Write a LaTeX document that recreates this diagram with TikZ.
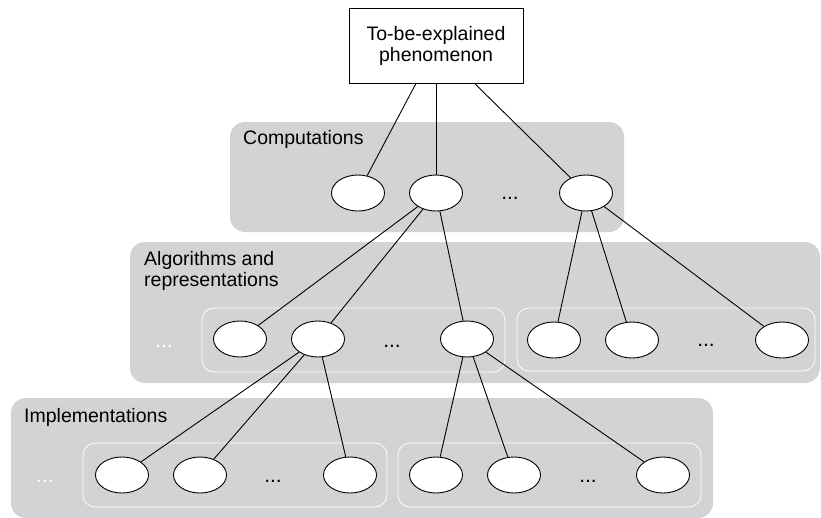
\documentclass[tikz,border=0pt]{standalone}
\usepackage{fontspec}
\setmainfont{Liberation Sans}
\usetikzlibrary{shapes.geometric, positioning}
\definecolor{cBand}{RGB}{211,211,211}
\tikzset{
	band/.style  ={fill=cBand, rounded corners=15pt},
	grp/.style   ={draw=white, line width=0.8pt, rounded corners=12pt},
	oval/.style  ={ellipse, draw=black, line width=0.9pt, fill=white, minimum width=53pt, minimum height=36pt, inner sep=0pt},
	topbox/.style={rectangle, draw=black, line width=0.9pt, fill=white, minimum width=174pt, minimum height=75pt, align=center},
	lvl/.style   ={anchor=north west, inner sep=0pt, align=left},
	dd/.style    ={anchor=base, inner sep=0pt, font=\fontsize{21}{21}\selectfont},
	ln/.style    ={line width=0.9pt},
}

\begin{document}
\begin{tikzpicture}[x=1pt, y=-1pt, font=\fontsize{19.5}{21}\selectfont]
	\useasboundingbox (0,0) rectangle (821,517);
	% level bands
	\fill[band] (230,122) rectangle (624,232);
	\fill[band] (130,242) rectangle (820,383);
	\fill[band] (11,398) rectangle (713,518);
	% groups inside the bands
	\draw[grp] (202,308) rectangle (505,372);
	\draw[grp] (517,308) rectangle (815,371);
	\draw[grp] (83,443) rectangle (387,507);
	\draw[grp] (398,443) rectangle (701,507);
	% level names
	\node[lvl, anchor=base west] (lc) at (243,144) {Computations};
	\node[lvl] (la) at (144,251) {Algorithms and\\representations};
	\node[lvl, anchor=base west] (li) at (24,422) {Implementations};
	% phenomenon
	\node[topbox] (phen) at (436,45.5) {To-be-explained\\phenomenon};
	% computations
	\node[oval] (c1) at (358,193) {};
	\node[oval] (c2) at (436,193) {};
	\node[oval] (c3) at (586,193) {};
	\node[dd] (cd) at (510,199) {...};
	% algorithms and representations
	\node[oval] (a1) at (240,339) {};
	\node[oval] (a2) at (318,339) {};
	\node[oval] (a3) at (467,339) {};
	\node[oval] (a4) at (554,340) {};
	\node[oval] (a5) at (632,340) {};
	\node[oval] (a6) at (782,340) {};
	\node[dd, text=white] (ad0) at (164,347) {...};
	\node[dd] (ad1) at (392,347) {...};
	\node[dd] (ad2) at (706,346) {...};
	% implementations
	\node[oval] (i1) at (122,475) {};
	\node[oval] (i2) at (200,475) {};
	\node[oval] (i3) at (350,475) {};
	\node[oval] (i4) at (436,475) {};
	\node[oval] (i5) at (514,475) {};
	\node[oval] (i6) at (663,475) {};
	\node[dd, text=white] (id0) at (45,482) {...};
	\node[dd] (id1) at (273,482) {...};
	\node[dd] (id2) at (588,482) {...};
	% links
	\foreach \t in {c1,c2,c3} \draw[ln] (phen) -- (\t);
	\foreach \t in {a1,a2,a3} \draw[ln] (c2) -- (\t);
	\foreach \t in {a4,a5,a6} \draw[ln] (c3) -- (\t);
	\foreach \t in {i1,i2,i3} \draw[ln] (a2) -- (\t);
	\foreach \t in {i4,i5,i6} \draw[ln] (a3) -- (\t);
\end{tikzpicture}
\end{document}
